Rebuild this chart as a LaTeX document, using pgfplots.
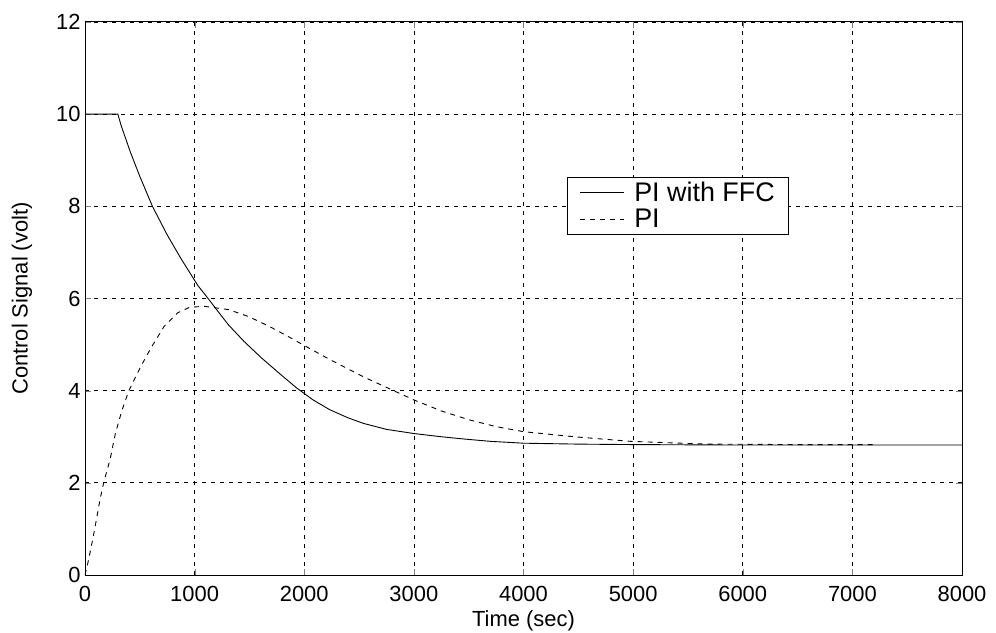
\documentclass[border=0pt]{standalone}
\usepackage{pgfplots}
\pgfplotsset{compat=1.18}
\usepackage{fontspec}
\setmainfont{Liberation Sans}
\begin{document}
\begin{tikzpicture}
\begin{axis}[
  name=ax,
  scale only axis,
  width=877bp, height=553bp,
  xmin=0, xmax=8000, ymin=0, ymax=12,
  xtick={0,1000,...,8000}, ytick={0,2,...,12},
  scaled x ticks=false,
  xticklabel style={/pgf/number format/1000 sep={}, yshift=-8bp},
  yticklabel style={xshift=-1bp},
  /pgf/number format/assume math mode=true,
  tick label style={font=\fontsize{22}{24}\selectfont},
  label style={font=\fontsize{22}{24}\selectfont},
  xlabel={Time (sec)}, ylabel={Control Signal (volt)},
  xlabel style={yshift=-2bp},
  ylabel style={yshift=17bp},
  tick align=inside, major tick length=6bp,
  axis line style={black, line width=1pt},
  grid=major,
  major grid style={black, line width=0.7pt, dash pattern=on 4bp off 5bp},
  legend style={at={(0.5496,0.7197)}, anchor=north west, draw=black, line width=0.8pt,
    font=\fontsize{27}{29}\selectfont, inner xsep=12bp, inner ysep=3bp, row sep=2bp,
    column sep=8bp,
    nodes={font=\fontsize{27}{29}\selectfont, inner sep=2bp}},
  legend cell align=left,
  legend image code/.code={\draw[#1] (0bp,0bp) -- (44bp,0bp);},
]
\addplot[black, line width=0.9pt] coordinates {
(0,10) (300,10) (330,9.75) (415,9.17) (500,8.65) (615,8.0) (750,7.38) (877,6.86) (1030,6.28) (1123,6.0)
(1200,5.76) (1308,5.43) (1450,5.07) (1615,4.70) (1800,4.32) (1930,4.06) (2080,3.80) (2230,3.59)
(2400,3.41) (2540,3.29) (2750,3.16) (3000,3.07) (3250,3.0) (3460,2.95) (3700,2.9) (4000,2.86)
(4500,2.84) (5000,2.83) (6000,2.82) (8000,2.82)
};
\addlegendentry{PI with FFC}
\addplot[black, line width=0.9pt, dash pattern=on 5bp off 5bp] coordinates {
(0,0.0) (30,0.3) (77,0.85) (138,1.65) (170,2.0) (230,2.52) (277,3.07) (338,3.58) (400,4.0)
(508,4.52) (600,4.92) (723,5.4) (846,5.69) (954,5.81) (1090,5.83) (1308,5.76) (1490,5.61)
(1677,5.4) (1850,5.18) (2000,4.98) (2230,4.68) (2540,4.30) (2815,4.0) (3000,3.80) (3250,3.56)
(3500,3.37) (3750,3.22) (4000,3.11) (4460,3.0) (4980,2.9) (5670,2.84) (6500,2.83) (7200,2.83)
};
\addlegendentry{PI}
\end{axis}
\pgfresetboundingbox
\path ([xshift=-85bp,yshift=-58bp]ax.south west) rectangle ([xshift=34bp,yshift=22bp]ax.north east);
\end{tikzpicture}
\end{document}
